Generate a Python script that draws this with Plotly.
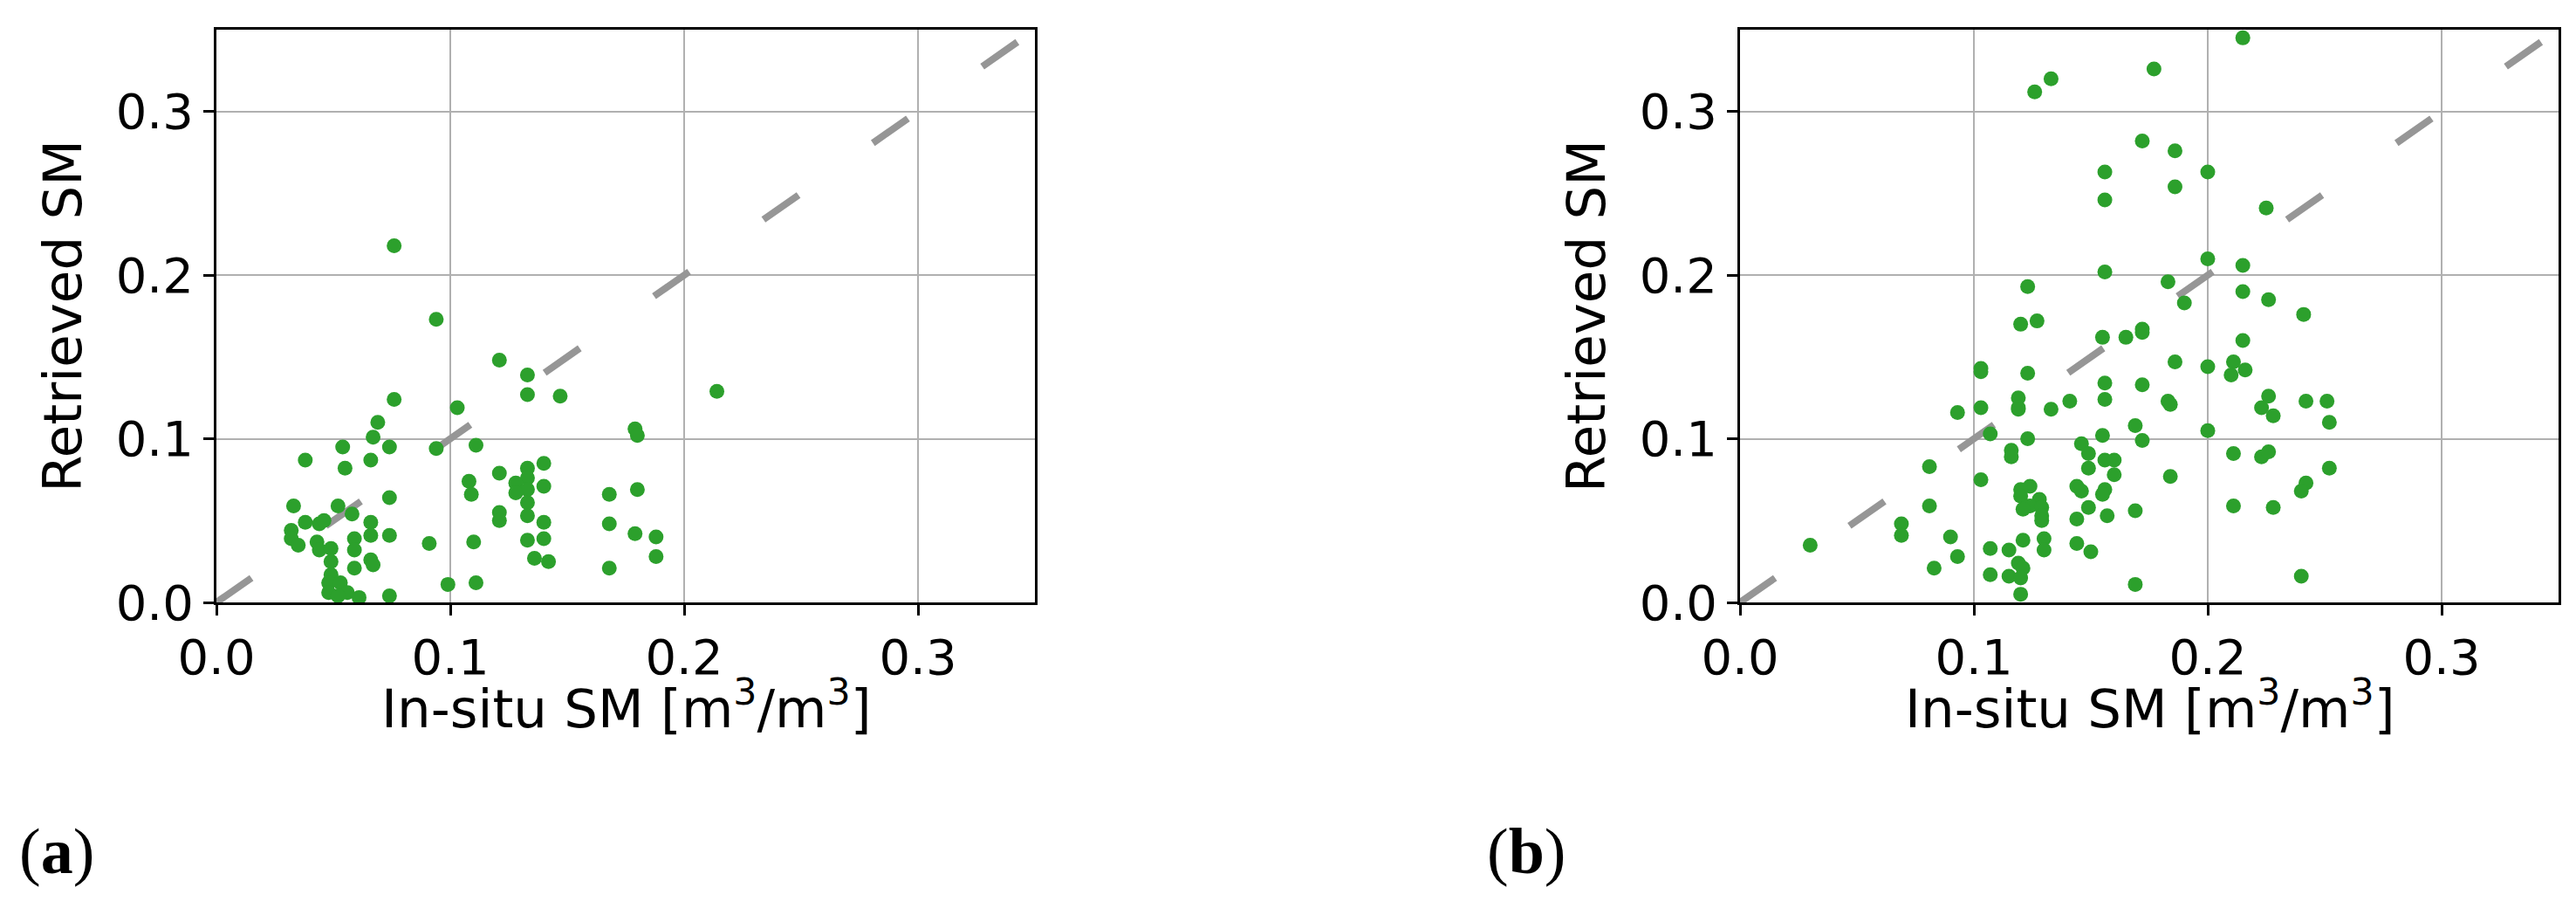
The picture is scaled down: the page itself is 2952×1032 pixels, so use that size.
import plotly.graph_objects as go

# ---- data ----
insitu_a = [0.076, 0.094, 0.121, 0.133, 0.133, 0.147, 0.214, 0.076, 0.103, 0.069,
            0.179, 0.180, 0.067, 0.054, 0.074, 0.094, 0.111, 0.038, 0.066, 0.055,
            0.140, 0.133, 0.121, 0.133, 0.108, 0.128, 0.140, 0.133, 0.128, 0.109,
            0.168, 0.180, 0.074, 0.133, 0.033, 0.052, 0.058, 0.121, 0.121, 0.133,
            0.140, 0.168, 0.038, 0.044, 0.046, 0.066, 0.032, 0.059, 0.066, 0.074,
            0.032, 0.035, 0.043, 0.044, 0.049, 0.059, 0.091, 0.110, 0.133, 0.140,
            0.179, 0.188, 0.049, 0.066, 0.067, 0.059, 0.136, 0.142, 0.188, 0.168,
            0.049, 0.048, 0.053, 0.099, 0.111, 0.048, 0.056, 0.061, 0.074, 0.052]
retrieved_a = [0.218, 0.173, 0.148, 0.139, 0.127, 0.126, 0.129, 0.124, 0.119, 0.110,
               0.106, 0.102, 0.101, 0.095, 0.095, 0.094, 0.096, 0.087, 0.087, 0.082,
               0.085, 0.082, 0.079, 0.076, 0.074, 0.073, 0.071, 0.069, 0.067, 0.066,
               0.066, 0.069, 0.064, 0.061, 0.059, 0.059, 0.054, 0.055, 0.050, 0.053,
               0.049, 0.048, 0.049, 0.048, 0.050, 0.049, 0.044, 0.039, 0.041, 0.041,
               0.039, 0.035, 0.037, 0.032, 0.033, 0.032, 0.036, 0.037, 0.038, 0.039,
               0.042, 0.040, 0.025, 0.026, 0.023, 0.021, 0.027, 0.025, 0.028, 0.021,
               0.017, 0.012, 0.012, 0.011, 0.012, 0.006, 0.006, 0.003, 0.004, 0.004]

insitu_b = [0.215, 0.177, 0.133, 0.126, 0.172, 0.186, 0.156, 0.200, 0.186, 0.156,
            0.225, 0.200, 0.215, 0.156, 0.123, 0.183, 0.215, 0.190, 0.226, 0.241,
            0.120, 0.127, 0.155, 0.165, 0.172, 0.172, 0.215, 0.103, 0.103, 0.123,
            0.186, 0.200, 0.211, 0.210, 0.216, 0.156, 0.172, 0.119, 0.119, 0.119,
            0.141, 0.156, 0.133, 0.093, 0.103, 0.183, 0.184, 0.226, 0.223, 0.228,
            0.242, 0.251, 0.252, 0.107, 0.123, 0.155, 0.169, 0.172, 0.200, 0.116,
            0.116, 0.081, 0.146, 0.149, 0.156, 0.160, 0.149, 0.160, 0.211, 0.223,
            0.226, 0.252, 0.184, 0.103, 0.124, 0.120, 0.120, 0.144, 0.146, 0.156,
            0.155, 0.242, 0.240, 0.128, 0.124, 0.121, 0.129, 0.129, 0.129, 0.081,
            0.149, 0.169, 0.144, 0.157, 0.211, 0.228, 0.069, 0.069, 0.090, 0.093,
            0.030, 0.083, 0.107, 0.115, 0.121, 0.130, 0.130, 0.144, 0.150, 0.107,
            0.115, 0.119, 0.121, 0.120, 0.120, 0.169, 0.240]
retrieved_b = [0.345, 0.326, 0.320, 0.312, 0.282, 0.276, 0.263, 0.263, 0.254, 0.246,
               0.241, 0.210, 0.206, 0.202, 0.193, 0.196, 0.190, 0.183, 0.185, 0.176,
               0.170, 0.172, 0.162, 0.162, 0.167, 0.165, 0.160, 0.143, 0.141, 0.140,
               0.147, 0.144, 0.147, 0.139, 0.142, 0.134, 0.133, 0.125, 0.119, 0.118,
               0.123, 0.124, 0.118, 0.116, 0.119, 0.123, 0.121, 0.126, 0.119, 0.114,
               0.123, 0.123, 0.110, 0.103, 0.100, 0.102, 0.108, 0.099, 0.105, 0.093,
               0.089, 0.083, 0.097, 0.091, 0.087, 0.087, 0.082, 0.078, 0.091, 0.089,
               0.092, 0.082, 0.077, 0.075, 0.071, 0.069, 0.065, 0.071, 0.068, 0.069,
               0.066, 0.073, 0.068, 0.063, 0.059, 0.057, 0.058, 0.053, 0.050, 0.059,
               0.058, 0.056, 0.051, 0.053, 0.059, 0.058, 0.048, 0.041, 0.040, 0.028,
               0.035, 0.021, 0.033, 0.032, 0.038, 0.039, 0.032, 0.036, 0.031, 0.017,
               0.016, 0.024, 0.021, 0.015, 0.005, 0.011, 0.016]

one_to_one = [0.0, 0.35]
tick_vals = [0.0, 0.1, 0.2, 0.3]
tick_text = ["0.0", "0.1", "0.2", "0.3"]
x_title = "In-situ SM [m<sup>3</sup>/m<sup>3</sup>]"
y_title = "Retrieved SM"
panel_labels = ["(<b>a</b>)", "(<b>b</b>)"]

W, H = 2952, 1032
GREEN = "#2ca02c"
GREY_DASH = "rgb(150,150,150)"
FONT = "DejaVu Sans"

fig = go.Figure()

for i, (xs, ys) in enumerate([(insitu_a, retrieved_a), (insitu_b, retrieved_b)]):
    xa = "x" if i == 0 else "x2"
    ya = "y" if i == 0 else "y2"
    fig.add_trace(go.Scatter(
        x=one_to_one, y=one_to_one, mode="lines",
        line=dict(color=GREY_DASH, width=8, dash="49px,104px"),
        xaxis=xa, yaxis=ya, showlegend=False, hoverinfo="skip"))
    fig.add_trace(go.Scatter(
        x=xs, y=ys, mode="markers",
        marker=dict(color=GREEN, size=17, line=dict(width=0)),
        xaxis=xa, yaxis=ya, showlegend=False))

dom_y = [1 - 682 / H, 1 - 26 / H]
dom_x1 = [240 / W, 1178 / W]
dom_x2 = [1986 / W, 2924 / W]

axis_common = dict(
    range=[0, 0.35], tickvals=tick_vals, ticktext=tick_text,
    showgrid=True, gridcolor="#b0b0b0", gridwidth=2,
    showline=True, linecolor="black", linewidth=3, mirror=True,
    ticks="outside", ticklen=12, tickwidth=3, tickcolor="black",
    tickfont=dict(family=FONT, size=56, color="black"),
    zeroline=False, automargin=False, fixedrange=True,
)
title_font = dict(family=FONT, size=61, color="black")

fig.update_layout(
    width=W, height=H,
    margin=dict(l=0, r=0, t=0, b=0),
    paper_bgcolor="white", plot_bgcolor="white",
    xaxis=dict(domain=dom_x1, anchor="y", **axis_common),
    yaxis=dict(domain=dom_y, anchor="x", **axis_common,
               title=dict(text=y_title, font=title_font, standoff=20)),
    xaxis2=dict(domain=dom_x2, anchor="y2", **axis_common),
    yaxis2=dict(domain=dom_y, anchor="x2", **axis_common,
                title=dict(text=y_title, font=title_font, standoff=20)),
)

# x-axis titles, centred under each panel
for dom in (dom_x1, dom_x2):
    fig.add_annotation(
        text=x_title, xref="paper", yref="paper",
        x=(dom[0] + dom[1]) / 2, y=1 - 841 / H,
        xanchor="center", yanchor="bottom", showarrow=False,
        font=title_font)

for lab, xpx in zip(panel_labels, [12, 1694]):
    fig.add_annotation(
        text=lab, xref="paper", yref="paper",
        x=xpx / W, y=1 - 967 / H, xanchor="left", yanchor="middle",
        showarrow=False,
        font=dict(family="Liberation Serif", size=74, color="black"))

fig.write_html("out.html")
